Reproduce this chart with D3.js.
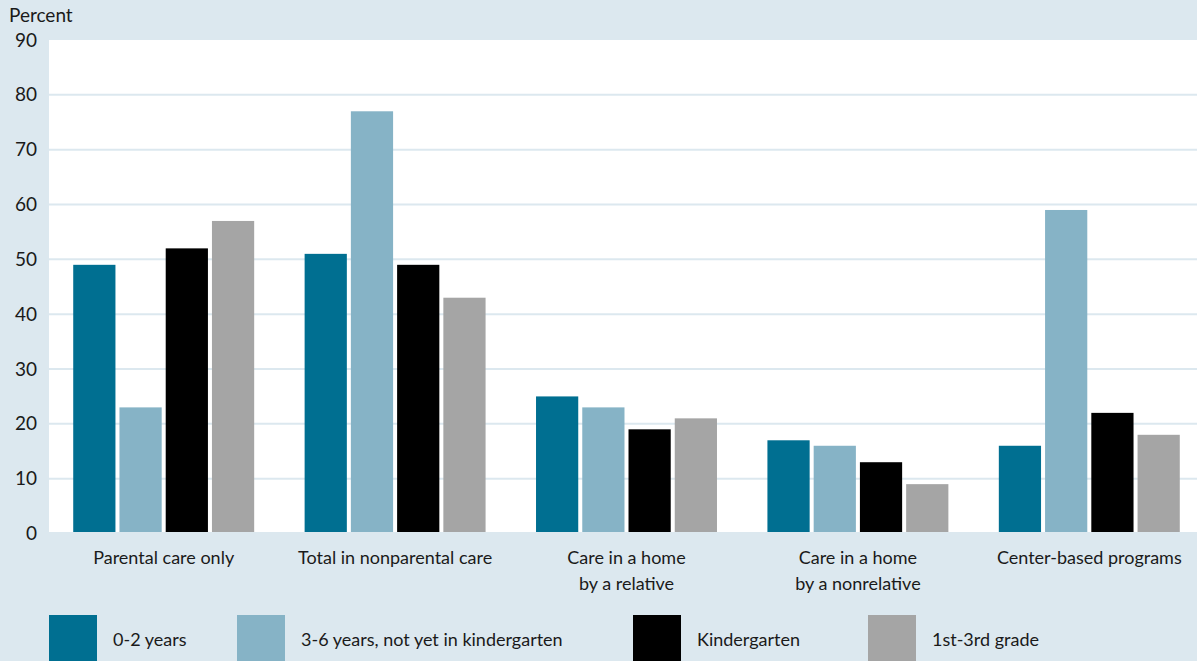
<!DOCTYPE html>
<html>
<head>
<meta charset="utf-8">
<script src="https://cdn.jsdelivr.net/npm/d3@7"></script>
<style>
  body { margin: 0; background: #dce8ef; }
  svg { display: block; font-family: "Lato", "Open Sans", sans-serif; }
</style>
</head>
<body>
<div id="chart"></div>
<script>
// Data
const categories = ["Parental care only", "Total in nonparental care", "Care in a home\nby a relative", "Care in a home\nby a nonrelative", "Center-based programs"];
const seriesNames = ["0-2 years", "3-6 years, not yet in kindergarten", "Kindergarten", "1st-3rd grade"];
const age02 = [49, 51, 25, 17, 16];
const age36 = [23, 77, 23, 16, 59];
const kinder = [52, 49, 19, 13, 22];
const grade13 = [57, 43, 21, 9, 18];
const yTicks = [0, 10, 20, 30, 40, 50, 60, 70, 80, 90];

const seriesValues = [age02, age36, kinder, grade13];
const colors = ["#006f91", "#86b3c6", "#000000", "#a5a5a5"];

const width = 1197, height = 661;
const plot = { left: 49, right: 1197, top: 40, bottom: 533.5 };

const svg = d3.select("#chart").append("svg")
  .attr("width", width)
  .attr("height", height);

svg.append("rect").attr("width", width).attr("height", height).attr("fill", "#dce8ef");

// plot background
svg.append("rect")
  .attr("x", plot.left).attr("y", plot.top)
  .attr("width", plot.right - plot.left)
  .attr("height", plot.bottom - plot.top)
  .attr("fill", "#ffffff");

// Scales
const y = d3.scaleLinear().domain([0, 90]).range([plot.bottom, plot.top]);
const x0 = d3.scaleBand().domain(categories).range([48, 1205]).paddingInner(0.218).paddingOuter(0.109);
const x1 = d3.scaleBand().domain(d3.range(seriesNames.length)).range([0, x0.bandwidth()]).paddingInner(0.087);

// Gridlines
svg.append("g").selectAll("line")
  .data(yTicks.filter(d => d > 0 && d < 90))
  .enter().append("line")
  .attr("x1", plot.left).attr("x2", plot.right)
  .attr("y1", d => y(d)).attr("y2", d => y(d))
  .attr("stroke", "#dce8ef")
  .attr("stroke-width", 2);

// Y axis labels
const yAxis = svg.append("g")
  .attr("transform", "translate(" + plot.left + ",0)")
  .call(d3.axisLeft(y).tickValues(yTicks).tickSize(0).tickPadding(12));
yAxis.select(".domain").remove();
yAxis.selectAll("text")
  .attr("font-size", 19)
  .attr("fill", "#1a1a1a")
  .attr("font-family", "Lato, sans-serif");

svg.append("text")
  .attr("x", 9).attr("y", 22)
  .attr("font-size", 19)
  .attr("fill", "#1a1a1a")
  .text("Percent");

// Bars
const groups = svg.append("g").selectAll("g")
  .data(categories)
  .enter().append("g")
  .attr("transform", d => "translate(" + x0(d) + ",0)");

groups.selectAll("rect")
  .data((d, ci) => seriesValues.map((vals, si) => ({ si: si, value: vals[ci] })))
  .enter().append("rect")
  .attr("x", d => x1(d.si))
  .attr("width", x1.bandwidth())
  .attr("y", d => y(d.value))
  .attr("height", d => y(0) - y(d.value))
  .attr("fill", d => colors[d.si]);

// zero line
svg.append("line")
  .attr("x1", plot.left).attr("x2", plot.right)
  .attr("y1", y(0)).attr("y2", y(0))
  .attr("stroke", "#dce8ef").attr("stroke-width", 3);

// Category labels
const catLabels = svg.append("g").selectAll("text")
  .data(categories)
  .enter().append("text")
  .attr("x", d => x0(d) + x0.bandwidth() / 2)
  .attr("y", 564)
  .attr("text-anchor", "middle")
  .attr("font-size", 18)
  .attr("fill", "#1a1a1a");

catLabels.selectAll("tspan")
  .data(d => d.split("\n"))
  .enter().append("tspan")
  .attr("x", function () { return d3.select(this.parentNode).attr("x"); })
  .attr("dy", (d, i) => i === 0 ? 0 : 26)
  .text(d => d);

// Legend
const legendX = [49, 237, 633, 868];
const legend = svg.append("g").selectAll("g")
  .data(seriesNames)
  .enter().append("g")
  .attr("transform", (d, i) => "translate(" + legendX[i] + ",615)");

legend.append("rect")
  .attr("width", 48).attr("height", 48)
  .attr("fill", (d, i) => colors[i]);

legend.append("text")
  .attr("x", 64).attr("y", 31)
  .attr("font-size", 18)
  .attr("fill", "#1a1a1a")
  .text(d => d);
</script>
</body>
</html>
